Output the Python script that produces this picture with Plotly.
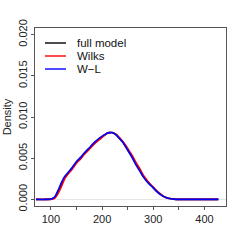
import plotly.graph_objects as go

# Density estimates
x_grid = [71, 90, 100, 104, 108, 114, 121, 127, 134, 142, 150, 158, 166, 174, 183, 190, 196, 203, 209, 215,
          221, 228, 234, 241, 248, 254, 261, 267, 274, 280, 287, 293, 300, 306, 313, 319, 326, 332, 340, 350,
          370, 400, 427]
y_full = [0, 0, 0.00003, 0.00010, 0.00028, 0.00095, 0.0019, 0.0027, 0.0032, 0.0038, 0.0045, 0.0050, 0.0056,
          0.0061, 0.0067, 0.0071, 0.0074, 0.0077, 0.0080, 0.0081, 0.0081, 0.0078, 0.0074, 0.0069, 0.0062,
          0.0056, 0.0049, 0.0042, 0.0035, 0.0028, 0.0023, 0.0019, 0.0014, 0.0010, 0.0007, 0.0004, 0.0002,
          0.0001, 0.00004, 0.00001, 0, 0, 0]
y_wilks = [0, 0, 0.00001, 0.00005, 0.00016, 0.00070, 0.0016, 0.0025, 0.0031, 0.0037, 0.0044, 0.0049, 0.0055,
           0.0060, 0.0066, 0.0070, 0.0073, 0.0077, 0.0080, 0.0081, 0.0081, 0.0079, 0.0075, 0.0070, 0.0064,
           0.0058, 0.0051, 0.0044, 0.0037, 0.0030, 0.0024, 0.0019, 0.0015, 0.0011, 0.0007, 0.0004, 0.0002,
           0.0001, 0.00004, 0.00001, 0, 0, 0]
y_wl = [0, 0, 0.00004, 0.00014, 0.00034, 0.0011, 0.0021, 0.0028, 0.0033, 0.0039, 0.0046, 0.0051, 0.0057,
        0.0062, 0.0068, 0.0072, 0.0075, 0.0078, 0.0080, 0.0081, 0.0081, 0.0078, 0.0074, 0.0069, 0.0062,
        0.0056, 0.0048, 0.0041, 0.0034, 0.0028, 0.0022, 0.0018, 0.0014, 0.0010, 0.0006, 0.0004, 0.0002,
        0.0001, 0.00004, 0.00001, 0, 0, 0]

series_names = ["full model", "Wilks", "W\u2212L"]
series_colors = ["#000000", "#ff0000", "#0000ff"]
series_values = [y_full, y_wilks, y_wl]

x_tickvals = [100, 150, 200, 250, 300, 350, 400]
x_ticktext = ["100", "", "200", "", "300", "", "400"]
y_tickvals = [0.000, 0.005, 0.010, 0.015, 0.020]
y_ticktext = ["0.000", "0.005", "0.010", "0.015", "0.020"]

W, H = 241, 241
L, R, T, B = 35, 15, 28, 35
PW, PH = W - L - R, H - T - B

def px_x(px):
    return (px - L) / PW

def px_y(py):
    return (H - B - py) / PH

fig = go.Figure()
for name, color, yv in zip(series_names, series_colors, series_values):
    fig.add_trace(go.Scatter(x=x_grid, y=yv, mode="lines", name=name, showlegend=False,
                             line=dict(color=color, width=1.6, shape="spline", smoothing=0.6)))

font = "Liberation Sans, Arial, Helvetica, sans-serif"

# manual legend (R style: no box, short line samples)
legend_rows_px = [43, 56, 69]
shapes, annotations = [], []
for name, color, ry in zip(series_names, series_colors, legend_rows_px):
    shapes.append(dict(type="line", xref="paper", yref="paper",
                       x0=px_x(45), x1=px_x(66), y0=px_y(ry), y1=px_y(ry),
                       line=dict(color=color, width=1.4)))
    annotations.append(dict(xref="paper", yref="paper", x=px_x(75), y=px_y(ry),
                            xanchor="left", yanchor="middle", text=name, showarrow=False,
                            font=dict(size=11.5, color="#111", family=font)))

fig.update_layout(
    width=W, height=H,
    margin=dict(l=L, r=R, t=T, b=B),
    paper_bgcolor="white", plot_bgcolor="white",
    font=dict(family=font, size=11, color="#222"),
    showlegend=False,
    shapes=shapes, annotations=annotations,
    xaxis=dict(range=[69, 442], tickvals=x_tickvals, ticktext=x_ticktext,
               showline=True, linecolor="#555", linewidth=1, mirror=True,
               ticks="outside", ticklen=3, tickcolor="#555", automargin=False,
               showgrid=False, zeroline=False, tickfont=dict(size=11, color="#222")),
    yaxis=dict(range=[-0.0008, 0.0208], tickvals=y_tickvals, ticktext=y_ticktext,
               tickangle=-90, automargin=False,
               showline=True, linecolor="#555", linewidth=1, mirror=True,
               ticks="outside", ticklen=3, tickcolor="#555",
               showgrid=False, zeroline=True, zerolinecolor="#e6e6e6", zerolinewidth=1,
               title=dict(text="Density", font=dict(size=11), standoff=2),
               tickfont=dict(size=11, color="#222")),
)
fig.write_html("out.html", config={"displayModeBar": False},
               post_script="document.body.style.margin='0px';")
